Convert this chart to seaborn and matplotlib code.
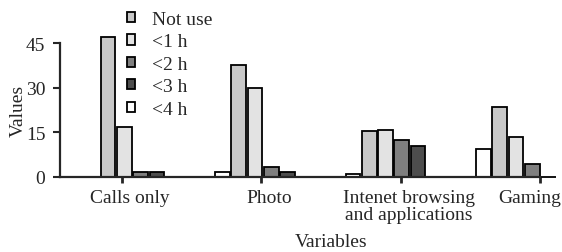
import numpy as np
import pandas as pd
import matplotlib
matplotlib.use("Agg")
import matplotlib.pyplot as plt
import matplotlib.transforms as mtransforms
import seaborn as sns

categories = ["Calls only", "Photo", "Intenet browsing\nand applications", "Gaming"]
levels = ["Not use", "<1 h", "<2 h", "<3 h", "<4 h"]

not_use = [47, 37.7, 15.4, 23.7]
lt_1h = [17, 30, 16, 13.6]
lt_2h = [1.7, 3.3, 12.6, 4.5]
lt_3h = [1.7, 1.8, 10.3, 0]
lt_4h = [0, 1.7, 1.0, 9.4]

y_ticks = [0, 15, 30, 45]

rows = []
for lvl, vals in zip(levels, [not_use, lt_1h, lt_2h, lt_3h, lt_4h]):
    for cat, v in zip(categories, vals):
        rows.append({"Variables": cat, "Level": lvl, "Values": v})
df = pd.DataFrame(rows)

colors = {"Not use": "#c8c8c8", "<1 h": "#e3e3e3", "<2 h": "#7f7f7f",
          "<3 h": "#4d4d4d", "<4 h": "#ffffff"}
# bars in each group start with the white one
hue_order = ["<4 h", "Not use", "<1 h", "<2 h", "<3 h"]

sns.set_style("ticks")
plt.rcParams["font.family"] = ["Liberation Serif", "DejaVu Serif"]

fig = plt.figure(figsize=(5.62, 2.53), dpi=100)
ax = fig.add_axes([60 / 562, 1 - 178 / 253, 480 / 562, 168 / 253])

sns.barplot(data=df, x="Variables", y="Values", hue="Level", hue_order=hue_order,
            palette=colors, width=0.625, gap=0.1, edgecolor="black", linewidth=1.3,
            ax=ax, legend=True)

for p in ax.patches:
    p.set_clip_on(False)

x_left, x_right = -0.494, 3.184
y_top = 56.6
ax.set_xlim(x_left, x_right)
ax.set_ylim(0, y_top)
ax.set_xticks(np.linspace(-0.019, x_right, len(categories)))
ax.set_xticklabels(categories, fontsize=14, linespacing=1.05)
ax.set_yticks(y_ticks)
ax.set_yticklabels([str(t) for t in y_ticks], fontsize=14)
ax.tick_params(axis="x", length=4.5, width=2, pad=4)
ax.tick_params(axis="y", length=5, width=1.5, pad=5.5)

# labels sit a little right of their ticks, the last one is pulled in to fit
shift = mtransforms.ScaledTranslation(8 / 100, 0, fig.dpi_scale_trans)
xlabels = ax.get_xticklabels()
for lab in xlabels[:-1]:
    lab.set_transform(lab.get_transform() + shift)
last = xlabels[-1]
last.set_horizontalalignment("right")
last.set_transform(last.get_transform() +
                   mtransforms.ScaledTranslation(21 / 100, 0, fig.dpi_scale_trans))

sns.despine(ax=ax)
ax.spines["left"].set_bounds(0, 45)
ax.spines["left"].set_linewidth(1.6)
ax.spines["bottom"].set_linewidth(1.6)

ax.set_xlabel("Variables", fontsize=14)
ax.xaxis.set_label_coords((331 - 60) / 480, -56 / 168)
ax.set_ylabel("Values", fontsize=14)
ax.yaxis.set_label_coords(-33 / 480, 22.5 / y_top)

handles, labels = ax.get_legend_handles_labels()
lookup = dict(zip(labels, handles))
ax.legend([lookup[l] for l in levels], levels, loc="upper left",
          bbox_to_anchor=((127 - 60) / 480, (178 - 12) / 168), frameon=False, fontsize=14,
          handlelength=0.42, handleheight=0.42, handletextpad=0.85,
          labelspacing=0.28, borderpad=0, borderaxespad=0)

fig.savefig("out.png", dpi=100)
